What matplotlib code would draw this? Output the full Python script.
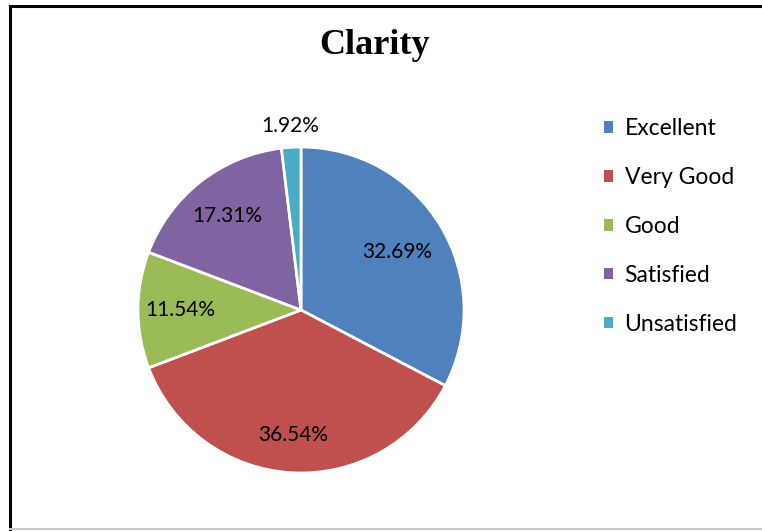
import matplotlib
matplotlib.use("Agg")
import matplotlib.pyplot as plt
from matplotlib.patches import Patch
from matplotlib.lines import Line2D
import numpy as np

# survey results for clarity
categories = ['Excellent', 'Very Good', 'Good', 'Satisfied', 'Unsatisfied']
percentages = [32.69, 36.54, 11.54, 17.31, 1.92]
colors = ['#4F81BD', '#C0504D', '#9BBB59', '#8064A2', '#4BACC6']
# how far from the centre each percentage label sits (fraction of radius)
label_dist = [0.69, 0.77, 0.74, 0.73, 1.13]

fig = plt.figure(figsize=(7.62, 5.31), dpi=100)
fig.patch.set_facecolor('white')

# frame lines like the exported chart border
fig.add_artist(Line2D([10/762, 1], [1 - 6/531, 1 - 6/531], color='black', lw=2.2, transform=fig.transFigure))
fig.add_artist(Line2D([10/762, 10/762], [0, 1 - 6/531], color='black', lw=2.2, transform=fig.transFigure))
fig.add_artist(Line2D([10/762, 1], [2/531, 2/531], color='#c8c8c8', lw=1.5, transform=fig.transFigure))

ax = fig.add_axes([138/762, 58/531, 326/762, 326/531])
wedges, texts, autotexts = ax.pie(
    percentages, colors=colors, startangle=90, counterclock=False,
    autopct=lambda p: f'{p:.2f}%', pctdistance=0.73,
    wedgeprops=dict(edgecolor='white', linewidth=2),
    textprops=dict(fontsize=15, family='Lato', color='black'))
ax.set_aspect('auto')
ax.set_xlim(-1, 1)
ax.set_ylim(-1, 1)

# place labels roughly where the original chart put them
for w, t, d in zip(wedges, autotexts, label_dist):
    ang = np.deg2rad((w.theta1 + w.theta2) / 2)
    t.set_position((d * np.cos(ang), d * np.sin(ang)))

fig.text(375/762, 1 - 46/531, 'Clarity', ha='center', va='center',
         fontsize=26, fontweight='bold', family='Liberation Serif')

handles = [Patch(facecolor=c, edgecolor='none') for c in colors]
fig.legend(handles, categories, loc='upper left', bbox_to_anchor=(604/762, 1 - 118/531),
           frameon=False, prop={'family': 'Lato', 'size': 16.5},
           handlelength=0.4, handleheight=0.4, handletextpad=0.5,
           labelspacing=1.22, borderpad=0, borderaxespad=0)

fig.savefig('out.png', dpi=100, facecolor='white')
